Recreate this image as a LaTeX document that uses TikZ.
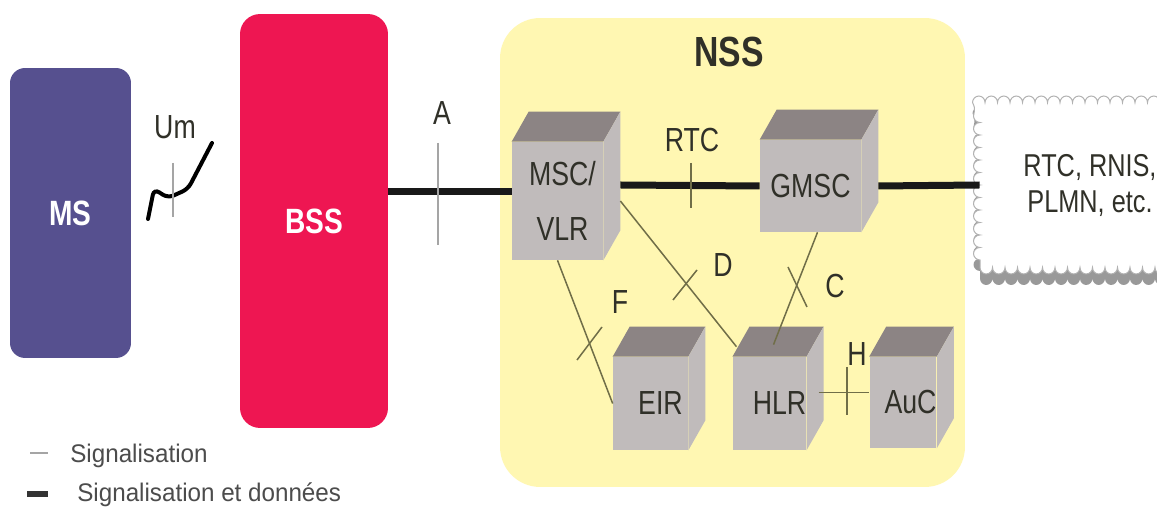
\documentclass[tikz,border=0pt]{standalone}
\usepackage{fontspec}
\setmainfont{Liberation Sans}[FakeStretch=0.8]
\newfontfamily\legendfont{Liberation Sans}[FakeStretch=0.95]
\usetikzlibrary{decorations.pathmorphing,shadows}
\definecolor{msblue}{RGB}{86,80,143}
\definecolor{bssred}{RGB}{238,22,82}
\definecolor{nssyellow}{RGB}{255,247,178}
\definecolor{cubefront}{RGB}{192,187,187}
\definecolor{cubetopc}{RGB}{140,132,132}
\definecolor{sigcol}{RGB}{112,110,72}
\definecolor{tickgray}{RGB}{165,165,165}
\definecolor{labeltext}{RGB}{48,48,40}
\begin{document}
\begin{tikzpicture}[x=0.02cm,y=-0.02cm,
    lbl/.style={text=labeltext,font=\fontsize{19}{23}\selectfont,inner sep=0pt},
    block/.style={rounded corners=0.3cm,text=white,font=\bfseries\fontsize{20}{24}\selectfont},
    cube/.style={fill=cubefront,inner sep=0pt,text=labeltext,align=center,
                 font=\fontsize{19}{31}\selectfont},
    cubetop/.style={fill=cubetopc},
    cubeside/.style={fill=cubefront},
    datalink/.style={line width=0.14cm,draw=black!90},
    siglink/.style={line width=0.03cm,draw=sigcol},
    tick/.style={line width=0.025cm,draw=tickgray}]
\clip (0,0) rectangle (1157,516);
\fill[white] (0,0) rectangle (1157,516);

% MS and BSS
\node[block,fill=msblue,minimum width=2.42cm,minimum height=5.8cm] (ms) at (70.5,213) {MS};
\node[block,fill=bssred,minimum width=2.96cm,minimum height=8.28cm,rounded corners=0.4cm] (bss) at (314,221) {BSS};

% NSS
\node[fill=nssyellow,rounded corners=0.8cm,minimum width=9.3cm,minimum height=9.38cm] (nss) at (732.5,252.5) {};
\node[lbl,font=\bfseries\fontsize{24}{28}\selectfont] (nsstitle) at (729,52) {NSS};

% cubes
\node[cube,minimum width=1.82cm,minimum height=2.36cm] (msc) at (557.5,201) {\hspace*{0.2cm}MSC/\\\hspace*{0.2cm}VLR};
\node[cube,minimum width=2.02cm,minimum height=1.84cm] (gmsc) at (810.5,186) {GMSC};
\node[cube,minimum width=1.5cm,minimum height=1.86cm] (eir) at (650.5,403.5) {\hspace*{0.4cm}EIR};
\node[cube,minimum width=1.46cm,minimum height=1.86cm] (hlr) at (769.5,403.5) {\hspace*{0.4cm}HLR};
\node[cube,minimum width=1.24cm,minimum height=1.82cm] (auc) at (903,402.5) {\hspace*{0.3cm}AuC};
\foreach \c in {msc,gmsc,eir,hlr,auc} {
  \fill[cubetop] (\c.north west) -- ++(17,-30) -- ([shift={(17,-30)}]\c.north east) -- (\c.north east) -- cycle;
  \fill[cubeside] (\c.north east) -- ++(17,-30) -- ([shift={(17,-30)}]\c.south east) -- (\c.south east) -- cycle;
}

% other networks
\node[fill=white,draw=black!30,line width=0.02cm,minimum width=4.4cm,minimum height=3.3cm,
      decorate,decoration={bumps,segment length=0.5cm,amplitude=-0.13cm},
      drop shadow={shadow xshift=0cm,shadow yshift=-0.22cm,fill=black!40,opacity=1},
      lbl,align=center,font=\fontsize{18}{20.5}\selectfont] (net) at (1090,185) {RTC, RNIS,\\PLMN, etc.};

% labels
\node[lbl] (um) at (175,127) {Um};
\node[lbl] (aif) at (442,113) {A};
\node[lbl] (rtc) at (692,140) {RTC};
\node[lbl] (dif) at (723,265) {D};
\node[lbl] (cif) at (835,286) {C};
\node[lbl] (fif) at (620,302) {F};
\node[lbl] (hif) at (857,354) {H};

% radio link
\draw[line width=0.08cm,line cap=round,rounded corners=0.12cm] (148,219) -- (154,189) -- (168,198) -- (188,189) -- (212,143);
\draw[tick] (173,163) -- (173,217);

% data links
\draw[datalink] ([shift={(0,-29)}]bss.east) -- ([shift={(0,-9)}]msc.west);
\draw[datalink] ([shift={(17,-16)}]msc.east) -- (gmsc.west);
\draw[datalink] ([shift={(17,0)}]gmsc.east) -- (net.west);
\draw[tick] (438,143) -- (438,245);
\draw[siglink] (691,163) -- (691,208);

% signalling links
\draw[siglink] ([shift={(17,0)}]msc.east) -- ([shift={(4,-10)}]hlr.north west);
\draw[siglink] ([shift={(7,0)}]gmsc.south) -- ([shift={(4,-12)}]hlr.north);
\draw[siglink] (msc.south) -- (eir.west);
\draw[siglink] ([shift={(12,-11)}]hlr.east) -- ([shift={(0,-10)}]auc.west);
\draw[siglink] (673,300) -- (697,270);
\draw[siglink] (788,267) -- (807,307);
\draw[siglink] (577,360) -- (602,327);
\draw[siglink] (847,367) -- (847,415);

% legend
\draw[tick] (30,453) -- (48,453);
\draw[line width=0.12cm,draw=black!80] (27,494) -- (48,494);
\node[anchor=west,inner sep=0pt,text=black!70,font=\legendfont\fontsize{14.5}{17}\selectfont] (leg1) at (70,456) {Signalisation};
\node[anchor=west,inner sep=0pt,text=black!70,font=\legendfont\fontsize{14.5}{17}\selectfont] (leg2) at (77,495) {Signalisation et données};
\end{tikzpicture}
\end{document}
